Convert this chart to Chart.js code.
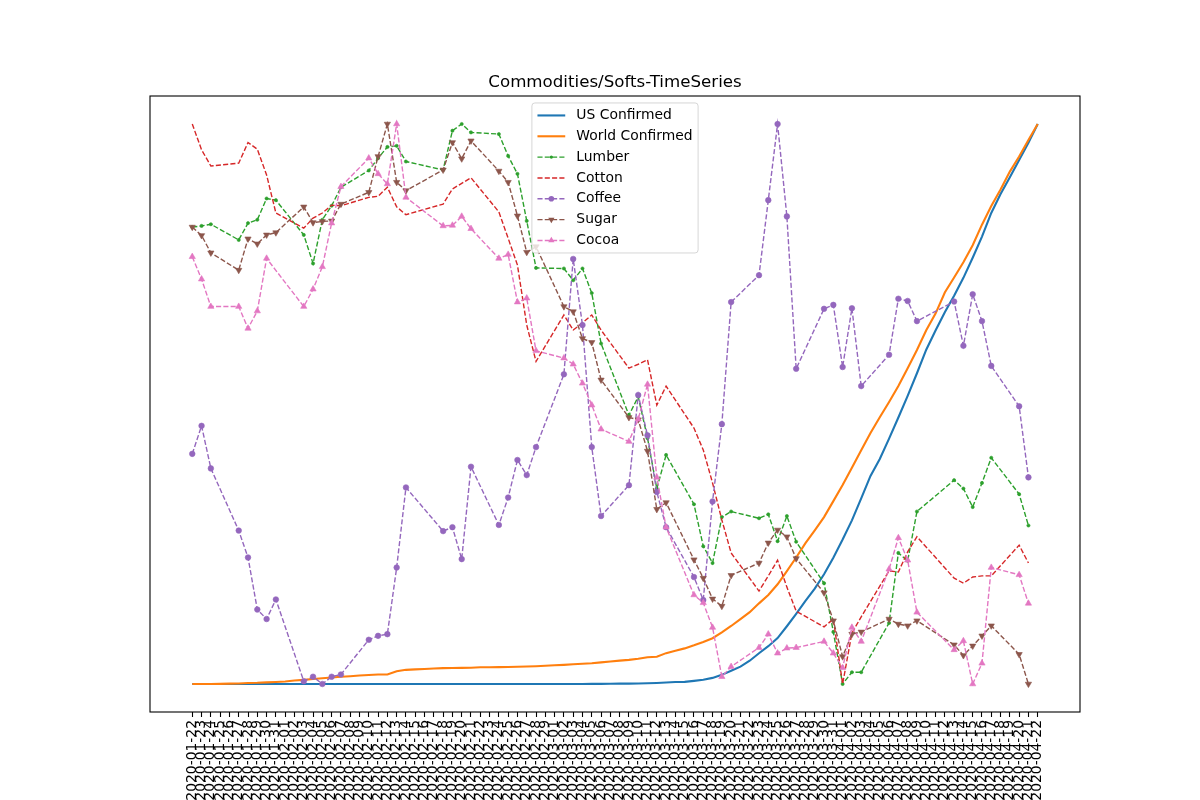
<!DOCTYPE html>
<html>
<head>
<meta charset="utf-8">
<title>Commodities/Softs-TimeSeries</title>
<script src="https://cdn.jsdelivr.net/npm/chart.js@4.4.1/dist/chart.umd.min.js"></script>
<style>
  html, body { margin: 0; padding: 0; background: #fff; }
  #wrap { width: 1200px; height: 800px; }
</style>
</head>
<body>
<div id="wrap"><canvas id="chart" width="1200" height="800"></canvas></div>
<script>
// Every calendar day on the x axis (tick labels)
const dates = [
  '2020-01-22','2020-01-23','2020-01-24','2020-01-25','2020-01-26','2020-01-27','2020-01-28','2020-01-29','2020-01-30','2020-01-31',
  '2020-02-01','2020-02-02','2020-02-03','2020-02-04','2020-02-05','2020-02-06','2020-02-07','2020-02-08','2020-02-09','2020-02-10',
  '2020-02-11','2020-02-12','2020-02-13','2020-02-14','2020-02-15','2020-02-16','2020-02-17','2020-02-18','2020-02-19','2020-02-20',
  '2020-02-21','2020-02-22','2020-02-23','2020-02-24','2020-02-25','2020-02-26','2020-02-27','2020-02-28','2020-02-29','2020-03-01',
  '2020-03-02','2020-03-03','2020-03-04','2020-03-05','2020-03-06','2020-03-07','2020-03-08','2020-03-09','2020-03-10','2020-03-11',
  '2020-03-12','2020-03-13','2020-03-14','2020-03-15','2020-03-16','2020-03-17','2020-03-18','2020-03-19','2020-03-20','2020-03-21',
  '2020-03-22','2020-03-23','2020-03-24','2020-03-25','2020-03-26','2020-03-27','2020-03-28','2020-03-29','2020-03-30','2020-03-31',
  '2020-04-01','2020-04-02','2020-04-03','2020-04-04','2020-04-05','2020-04-06','2020-04-07','2020-04-08','2020-04-09','2020-04-10',
  '2020-04-11','2020-04-12','2020-04-13','2020-04-14','2020-04-15','2020-04-16','2020-04-17','2020-04-18','2020-04-19','2020-04-20',
  '2020-04-21','2020-04-22'
];

// Trading days for the commodity series
const tradeDates = [
  '2020-01-22','2020-01-23','2020-01-24','2020-01-27','2020-01-28','2020-01-29','2020-01-30','2020-01-31',
  '2020-02-03','2020-02-04','2020-02-05','2020-02-06','2020-02-07','2020-02-10','2020-02-11','2020-02-12','2020-02-13','2020-02-14',
  '2020-02-18','2020-02-19','2020-02-20','2020-02-21','2020-02-24','2020-02-25','2020-02-26','2020-02-27','2020-02-28',
  '2020-03-02','2020-03-03','2020-03-04','2020-03-05','2020-03-06','2020-03-09','2020-03-10','2020-03-11','2020-03-12','2020-03-13',
  '2020-03-16','2020-03-17','2020-03-18','2020-03-19','2020-03-20','2020-03-23','2020-03-24','2020-03-25','2020-03-26','2020-03-27',
  '2020-03-30','2020-03-31','2020-04-01','2020-04-02','2020-04-03','2020-04-06','2020-04-07','2020-04-08','2020-04-09',
  '2020-04-13','2020-04-14','2020-04-15','2020-04-16','2020-04-17','2020-04-20','2020-04-21'
];

// Normalised (0..1) series
const usConfirmed = [
  0,0,0,0,0,0,0,0,0,0, 0,0,0,0,0,0,0,0,0,0, 0,0,0,0,0,0,0,0,0,0, 0,0,0,0,0,0,0,0,0,0,
  0.0001,0.0001,0.0001,0.0002,0.0003,0.0005,0.0006,0.0007,0.0009,0.0014,
  0.0019,0.0026,0.0035,0.0038,0.0056,0.0077,0.0109,0.0163,0.0238,0.0310,
  0.0416,0.0549,0.0675,0.0819,0.1031,0.1252,0.1483,0.1702,0.1959,0.2256,
  0.2579,0.2922,0.3314,0.3716,0.4018,0.4381,0.4759,0.5146,0.5549,0.5969,
  0.6312,0.6640,0.6933,0.7253,0.7612,0.7989,0.8411,0.8751,0.9051,0.9358,
  0.9663,1.0
];
const worldConfirmed = [
  0,0.0000,0.0001,0.0003,0.0006,0.0009,0.0019,0.0021,0.0029,0.0036,
  0.0044,0.0062,0.0074,0.0089,0.0103,0.0115,0.0129,0.0139,0.0151,0.0161,
  0.0169,0.0170,0.0228,0.0253,0.0261,0.0269,0.0277,0.0284,0.0286,0.0288,
  0.0291,0.0298,0.0299,0.0301,0.0304,0.0308,0.0313,0.0318,0.0326,0.0335,
  0.0342,0.0352,0.0361,0.0371,0.0386,0.0401,0.0417,0.0431,0.0450,0.0478,
  0.0487,0.0551,0.0593,0.0636,0.0690,0.0749,0.0817,0.0923,0.1036,0.1159,
  0.1282,0.1440,0.1591,0.1781,0.2017,0.2259,0.2516,0.2743,0.2980,0.3266,
  0.3553,0.3861,0.4175,0.4481,0.4762,0.5035,0.5321,0.5640,0.5964,0.6316,
  0.6614,0.6991,0.7258,0.7530,0.7834,0.8202,0.8536,0.8832,0.9150,0.9421,
  0.9714,1.0
];
const lumber = [
  0.816,0.818,0.821, 0.793,0.823,0.829,0.867,0.864, 0.802,0.751,0.829,0.854,0.887,
  0.917,0.939,0.959,0.961,0.933, 0.918,0.988,1.000,0.985, 0.982,0.943,0.911,0.827,0.743,
  0.742,0.721,0.742,0.698,0.608, 0.480,0.513,0.439,0.349,0.409, 0.321,0.246,0.216,0.298,0.308,
  0.296,0.303,0.255,0.300,0.254, 0.180,0.093,0.000,0.021,0.021, 0.109,0.234,0.220,0.308,
  0.364,0.349,0.316,0.359,0.404, 0.339,0.283
];
const cotton = [
  1.000,0.954,0.925, 0.930,0.967,0.955,0.909,0.841, 0.814,0.832,0.841,0.855,0.854,
  0.869,0.871,0.887,0.852,0.838, 0.857,0.884,0.894,0.904, 0.843,0.796,0.748,0.641,0.576,
  0.659,0.632,0.645,0.659,0.632, 0.564,0.571,0.579,0.498,0.532, 0.457,0.418,0.359,0.293,0.234,
  0.166,0.193,0.221,0.173,0.130, 0.102,0.116,0.000,0.091,0.120, 0.202,0.200,0.236,0.263,
  0.189,0.180,0.191,0.193,0.193, 0.248,0.216
];
const coffee = [
  0.411,0.461,0.385, 0.274,0.226,0.133,0.116,0.151, 0.005,0.013,0.000,0.013,0.017,
  0.079,0.086,0.089,0.208,0.351, 0.273,0.280,0.223,0.388, 0.284,0.333,0.400,0.373,0.423,
  0.553,0.759,0.641,0.423,0.300, 0.355,0.516,0.444,0.343,0.280, 0.191,0.150,0.326,0.464,0.682,
  0.730,0.864,1.000,0.835,0.563, 0.670,0.677,0.566,0.671,0.532, 0.588,0.688,0.684,0.648,
  0.683,0.604,0.696,0.648,0.568, 0.496,0.369
];
const sugar = [
  0.816,0.801,0.770, 0.739,0.795,0.786,0.802,0.806, 0.852,0.824,0.826,0.827,0.857,
  0.878,0.942,1.000,0.896,0.881, 0.918,0.967,0.938,0.970, 0.916,0.896,0.836,0.771,0.781,
  0.674,0.665,0.617,0.610,0.543, 0.476,0.472,0.416,0.312,0.324, 0.222,0.189,0.152,0.139,0.194,
  0.216,0.252,0.275,0.263,0.224, 0.163,0.113,0.049,0.089,0.093, 0.116,0.107,0.104,0.113,
  0.070,0.051,0.068,0.086,0.104, 0.053,0.000
];
const cocoa = [
  0.763,0.723,0.674, 0.674,0.635,0.666,0.760,null, 0.674,0.705,0.745,0.823,0.888,
  0.939,0.911,0.893,1.000,0.869, 0.818,0.819,0.835,0.813, 0.760,0.767,0.682,0.689,0.595,
  0.582,0.571,0.537,0.498,0.455, 0.433,0.473,0.535,0.369,0.280, 0.159,0.145,0.101,0.013,0.031,
  0.065,0.089,0.055,0.064,0.065, 0.076,0.055,0.029,0.101,0.076, 0.205,0.261,0.221,0.128,
  0.061,0.077,0.000,0.037,0.208, 0.195,0.144
];

// map a list of date strings + values onto the day index axis
function toPoints(days, values) {
    return days.map(function(d, k) {
        return { x: dates.indexOf(d), y: values[k] };
    });
}

const DASH = [5.1, 2.2];

function solid(label, values, color, order) {
    return {
        label: label, data: toPoints(dates, values),
        borderColor: color, backgroundColor: color,
        borderWidth: 2.1, pointRadius: 0, tension: 0, order: order
    };
}

function dashed(label, values, color, style, radius, rotation, order) {
    return {
        label: label, data: toPoints(tradeDates, values),
        borderColor: color, backgroundColor: color,
        borderWidth: 1.4, borderDash: DASH, tension: 0, spanGaps: true,
        pointStyle: style, pointRadius: radius, pointRotation: rotation,
        pointBackgroundColor: color, pointBorderColor: color, pointBorderWidth: 0.6,
        order: order
    };
}

// simple marker drawer for the legend handles
function drawMarker(ctx, ds, x, y) {
    if (!ds.pointRadius) return;
    const r = ds.pointRadius;
    ctx.setLineDash([]);
    ctx.fillStyle = ds.borderColor;
    ctx.beginPath();
    if (ds.pointStyle === 'triangle') {
        const rot = (ds.pointRotation || 0) * Math.PI / 180;
        for (let k = 0; k < 3; k++) {
            const a = rot + k * 2 * Math.PI / 3;
            const px = x + Math.sin(a) * r, py = y - Math.cos(a) * r;
            if (k === 0) ctx.moveTo(px, py); else ctx.lineTo(px, py);
        }
        ctx.closePath();
    } else {
        ctx.arc(x, y, r, 0, Math.PI * 2);
    }
    ctx.fill();
}

// axes frame + matplotlib-style legend (upper center)
const mplDecor = {
    id: 'mplDecor',
    afterDraw(chart) {
        const ctx = chart.ctx;
        const a = chart.chartArea;
        ctx.save();
        ctx.strokeStyle = '#000';
        ctx.lineWidth = 1.1;
        ctx.strokeRect(a.left, a.top, a.right - a.left, a.bottom - a.top);

        const fs = 13.89;
        const sets = chart.data.datasets;
        ctx.font = fs + 'px "DejaVu Sans"';
        let textW = 0;
        sets.forEach(function(ds) { textW = Math.max(textW, ctx.measureText(ds.label).width); });
        const pad = 0.4 * fs, handle = 2 * fs, gap = 0.8 * fs, rowH = 1.5 * fs;
        const w = pad + handle + gap + textW + pad;
        const h = 2 * pad + sets.length * fs + (sets.length - 1) * 0.5 * fs;
        const left = (a.left + a.right) / 2 - w / 2;
        const top = a.top + 0.5 * fs;

        ctx.beginPath();
        ctx.roundRect(left, top, w, h, 3);
        ctx.fillStyle = 'rgba(255,255,255,0.8)';
        ctx.fill();
        ctx.strokeStyle = 'rgba(204,204,204,0.8)';
        ctx.lineWidth = 1;
        ctx.stroke();

        sets.forEach(function(ds, k) {
            const y = top + pad + fs / 2 + k * rowH;
            const x0 = left + pad;
            ctx.strokeStyle = ds.borderColor;
            ctx.lineWidth = ds.borderWidth;
            ctx.setLineDash(ds.borderDash || []);
            ctx.beginPath();
            ctx.moveTo(x0, y);
            ctx.lineTo(x0 + handle, y);
            ctx.stroke();
            drawMarker(ctx, ds, x0 + handle / 2, y);
            ctx.setLineDash([]);
            ctx.fillStyle = '#000';
            ctx.textBaseline = 'middle';
            ctx.textAlign = 'left';
            ctx.fillText(ds.label, x0 + handle + gap, y);
        });
        ctx.restore();
    }
};

Chart.defaults.font.family = '"DejaVu Sans", sans-serif';
Chart.defaults.color = '#000';

new Chart(document.getElementById('chart'), {
    type: 'line',
    data: {
        datasets: [
            solid('US Confirmed', usConfirmed, '#1f77b4', 6),
            solid('World Confirmed', worldConfirmed, '#ff7f0e', 5),
            dashed('Lumber', lumber, '#2ca02c', 'circle', 1.6, 0, 4),
            dashed('Cotton', cotton, '#d62728', 'circle', 0, 0, 3),
            dashed('Coffee', coffee, '#9467bd', 'circle', 2.8, 0, 2),
            dashed('Sugar', sugar, '#8c564b', 'triangle', 3.6, 180, 1),
            dashed('Cocoa', cocoa, '#e377c2', 'triangle', 3.6, 0, 0)
        ]
    },
    options: {
        responsive: false,
        animation: false,
        events: [],
        layout: { padding: { left: 150, right: 120, top: 0, bottom: 0 } },
        plugins: {
            legend: { display: false },
            tooltip: { enabled: false },
            title: {
                display: true,
                text: 'Commodities/Softs-TimeSeries',
                color: '#000',
                font: { size: 16.67, weight: 'normal' },
                padding: { top: 72.4, bottom: 3.6 }
            }
        },
        scales: {
            x: {
                type: 'linear',
                min: -4.55,
                max: 95.55,
                afterBuildTicks: function(scale) {
                    scale.ticks = dates.map(function(d, i) { return { value: i }; });
                },
                afterFit: function(scale) { scale.height = 88; },
                ticks: {
                    autoSkip: false,
                    minRotation: 90,
                    maxRotation: 90,
                    padding: 3,
                    color: '#000',
                    font: { size: 13.89 },
                    callback: function(v) { return dates[v]; }
                },
                grid: { display: true, drawOnChartArea: false, drawTicks: true, tickLength: 5, tickColor: '#000', tickWidth: 1.1 },
                border: { display: false }
            },
            y: {
                type: 'linear',
                min: -0.05,
                max: 1.05,
                display: false
            }
        }
    },
    plugins: [mplDecor]
});
</script>
</body>
</html>
